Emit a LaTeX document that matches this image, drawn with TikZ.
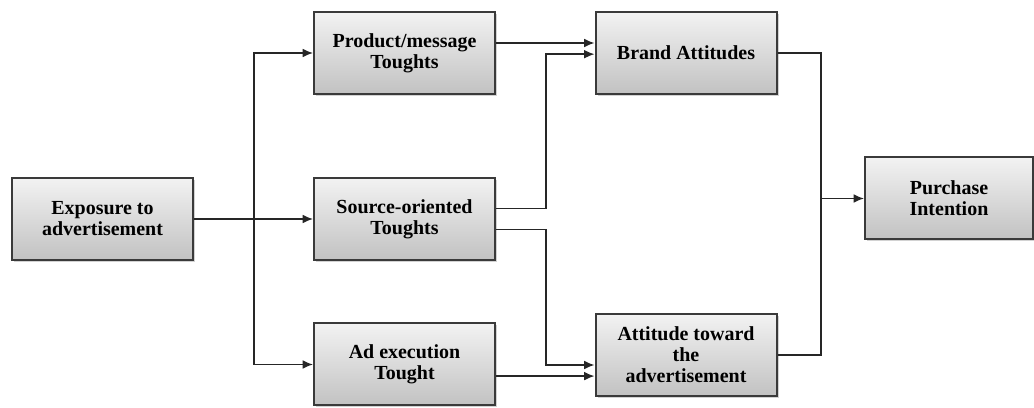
\documentclass[tikz,border=0pt]{standalone}
\usepackage{fontspec}
\setmainfont{Liberation Serif}
\usetikzlibrary{arrows.meta,positioning,calc,shadows}
\usepackage{xcolor}
\definecolor{dark}{HTML}{262626}
\definecolor{edge}{HTML}{3A3A3A}
\tikzset{
  box/.style={draw=edge, line width=0.05cm, align=center, top color=gray!10, bottom color=gray!48,
    minimum width=4.525cm, minimum height=2.05cm, inner sep=0.5mm,
    font=\bfseries\fontsize{14.2pt}{15pt}\selectfont,
    drop shadow={shadow xshift=0.05cm, shadow yshift=-0.05cm, fill=gray!70, opacity=0.5}},
  arrow/.style={-{Latex[length=0.26cm, width=0.22cm]}, line width=0.035cm, draw=dark},
  link/.style={line width=0.035cm, draw=dark}
}

\begin{document}
\begin{tikzpicture}
  \useasboundingbox (0,0) rectangle (25.85,10.2);
  \node[box] (expo) at (2.5625,4.725) {Exposure to\\advertisement};
  \node[box] (prod) at (10.1125,8.875) {Product/message\\Toughts};
  \node[box] (src) at (10.1125,4.725) {Source-oriented\\Toughts};
  \node[box] (adex) at (10.1125,1.0875) {Ad execution\\Tought};
  \node[box] (brand) at (17.15,8.875) {Brand Attitudes};
  \node[box] (attad) at (17.15,1.325) {Attitude toward\\the\\advertisement};
  \node[box, minimum width=4.2cm] (purch) at (23.725,5.2375) {Purchase\\Intention};
  % branching from exposure
  \coordinate (split) at (6.35,4.725);
  \draw[arrow] (expo.east) -- (src.west);
  \draw[arrow] (split) |- (prod.west);
  \draw[arrow] (split) |- (adex.west);
  % into the attitudes
  \coordinate (produp) at ([yshift=0.25cm]prod.east);
  \coordinate (srcup) at ([yshift=0.26cm]src.east);
  \coordinate (srcdown) at ([yshift=-0.26cm]src.east);
  \coordinate (adout) at ([yshift=-0.29cm]adex.east);
  \draw[arrow] (produp) -- (produp -| brand.west);
  \draw[arrow] (srcup) -- ++(1.25,0) |- ([yshift=-0.03cm]brand.west);
  \draw[arrow] (srcdown) -- ++(1.25,0) |- ([yshift=-0.25cm]attad.west);
  \draw[arrow] (adout) -- (adout -| attad.west);
  % merge into purchase intention
  \coordinate (join) at (20.525,5.2375);
  \draw[link] (brand.east) -| (join) |- (attad.east);
  \draw[arrow] (join) -- (purch.west);
\end{tikzpicture}
\end{document}
